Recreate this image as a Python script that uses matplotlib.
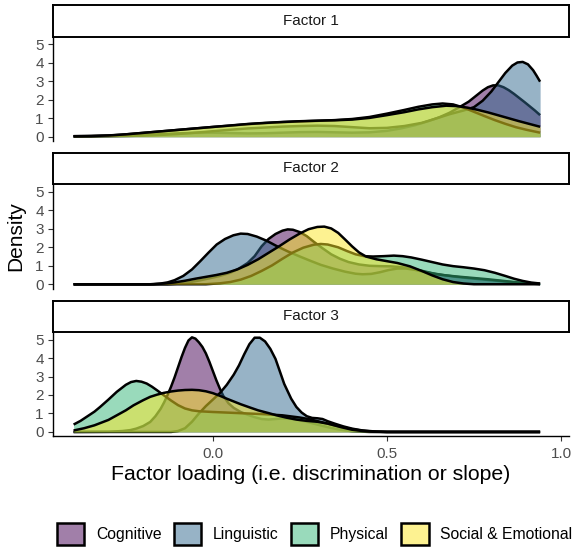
import matplotlib.pyplot as plt
from matplotlib.colors import to_rgb
from matplotlib.patches import Patch

plt.rcParams['font.family'] = ['Liberation Sans', 'DejaVu Sans']

domains = ["Cognitive", "Linguistic", "Physical", "Social & Emotional"]
colors = ["#440154", "#31688E", "#35B779", "#FDE725"]
factors = ["Factor 1", "Factor 2", "Factor 3"]

# density curves (x = loading, y = density)
# Factor 1
f1_cog_x = [-0.40, -0.35, -0.30, -0.25, -0.20, -0.15, -0.10, -0.05, 0.00, 0.05, 0.10, 0.15, 0.20, 0.25, 0.30, 0.35, 0.40, 0.45, 0.50, 0.54, 0.58, 0.62, 0.65, 0.68, 0.71, 0.735, 0.755, 0.775, 0.79, 0.805, 0.82, 0.835, 0.85, 0.865, 0.88, 0.895, 0.91, 0.925, 0.94]
f1_cog_y = [0.03, 0.04, 0.05, 0.07, 0.10, 0.14, 0.18, 0.21, 0.22, 0.20, 0.18, 0.19, 0.22, 0.25, 0.26, 0.24, 0.22, 0.24, 0.32, 0.45, 0.62, 0.85, 1.05, 1.30, 1.62, 1.90, 2.20, 2.50, 2.68, 2.78, 2.78, 2.68, 2.52, 2.32, 2.10, 1.88, 1.65, 1.42, 1.17]
f1_lin_x = [-0.40, -0.30, -0.20, -0.15, -0.10, -0.05, 0.00, 0.05, 0.10, 0.15, 0.20, 0.25, 0.30, 0.35, 0.40, 0.45, 0.50, 0.55, 0.60, 0.64, 0.68, 0.72, 0.75, 0.775, 0.80, 0.82, 0.84, 0.86, 0.875, 0.89, 0.905, 0.92, 0.93, 0.94]
f1_lin_y = [0.02, 0.03, 0.06, 0.10, 0.15, 0.22, 0.30, 0.38, 0.45, 0.50, 0.55, 0.58, 0.60, 0.58, 0.52, 0.46, 0.48, 0.58, 0.75, 0.98, 1.22, 1.42, 1.60, 1.95, 2.45, 2.95, 3.45, 3.85, 4.02, 4.05, 3.92, 3.60, 3.30, 2.98]
f1_phy_x = [-0.40, -0.35, -0.30, -0.25, -0.20, -0.15, -0.10, -0.05, 0.00, 0.05, 0.10, 0.15, 0.20, 0.25, 0.30, 0.35, 0.40, 0.45, 0.50, 0.55, 0.59, 0.63, 0.66, 0.69, 0.72, 0.75, 0.78, 0.81, 0.84, 0.87, 0.90, 0.94]
f1_phy_y = [0.02, 0.03, 0.06, 0.13, 0.21, 0.29, 0.37, 0.45, 0.53, 0.60, 0.68, 0.74, 0.79, 0.83, 0.86, 0.90, 0.96, 1.07, 1.25, 1.45, 1.62, 1.75, 1.80, 1.75, 1.58, 1.35, 1.12, 0.90, 0.70, 0.52, 0.38, 0.22]
f1_soc_x = [-0.40, -0.35, -0.30, -0.25, -0.20, -0.15, -0.10, -0.05, 0.00, 0.05, 0.10, 0.15, 0.20, 0.25, 0.30, 0.35, 0.40, 0.45, 0.50, 0.55, 0.59, 0.63, 0.67, 0.70, 0.73, 0.76, 0.79, 0.82, 0.85, 0.88, 0.91, 0.94]
f1_soc_y = [0.03, 0.04, 0.07, 0.13, 0.21, 0.29, 0.37, 0.45, 0.53, 0.61, 0.69, 0.75, 0.80, 0.84, 0.87, 0.89, 0.93, 1.02, 1.17, 1.33, 1.48, 1.60, 1.68, 1.66, 1.58, 1.46, 1.32, 1.16, 1.00, 0.84, 0.69, 0.54]

# Factor 2
f2_cog_x = [-0.40, -0.13, -0.10, -0.07, -0.04, -0.01, 0.02, 0.05, 0.075, 0.10, 0.12, 0.14, 0.16, 0.18, 0.20, 0.215, 0.23, 0.25, 0.27, 0.29, 0.315, 0.34, 0.365, 0.39, 0.42, 0.45, 0.48, 0.51, 0.54, 0.57, 0.60, 0.63, 0.66, 0.70, 0.74, 0.78, 0.82, 0.86, 0.90, 0.94]
f2_cog_y = [0.00, 0.00, 0.03, 0.10, 0.20, 0.32, 0.45, 0.62, 0.85, 1.15, 1.52, 2.05, 2.45, 2.72, 2.90, 2.97, 2.95, 2.82, 2.60, 2.30, 1.95, 1.62, 1.38, 1.20, 1.07, 1.00, 0.98, 0.97, 0.93, 0.85, 0.73, 0.60, 0.50, 0.40, 0.32, 0.25, 0.18, 0.11, 0.05, 0.01]
f2_lin_x = [-0.40, -0.18, -0.15, -0.13, -0.11, -0.085, -0.06, -0.036, -0.012, 0.011, 0.035, 0.059, 0.08, 0.10, 0.126, 0.155, 0.184, 0.215, 0.25, 0.28, 0.31, 0.345, 0.38, 0.41, 0.43, 0.455, 0.48, 0.505, 0.53, 0.555, 0.58, 0.61, 0.64, 0.67, 0.70, 0.73, 0.76, 0.79, 0.82, 0.85, 0.88, 0.91, 0.94]
f2_lin_y = [0.00, 0.00, 0.04, 0.10, 0.22, 0.45, 0.80, 1.25, 1.72, 2.15, 2.45, 2.65, 2.74, 2.72, 2.58, 2.35, 2.06, 1.78, 1.50, 1.27, 1.05, 0.85, 0.68, 0.57, 0.54, 0.56, 0.65, 0.77, 0.85, 0.85, 0.78, 0.66, 0.55, 0.48, 0.42, 0.37, 0.32, 0.27, 0.21, 0.15, 0.09, 0.05, 0.02]
f2_phy_x = [-0.40, -0.02, 0.02, 0.05, 0.08, 0.11, 0.14, 0.17, 0.20, 0.23, 0.26, 0.29, 0.31, 0.33, 0.36, 0.385, 0.41, 0.435, 0.46, 0.49, 0.52, 0.545, 0.57, 0.60, 0.63, 0.66, 0.69, 0.72, 0.75, 0.78, 0.81, 0.84, 0.865, 0.89, 0.915, 0.94]
f2_phy_y = [0.00, 0.00, 0.05, 0.12, 0.25, 0.45, 0.72, 1.02, 1.38, 1.72, 1.98, 2.14, 2.18, 2.15, 2.00, 1.80, 1.62, 1.52, 1.50, 1.52, 1.55, 1.52, 1.45, 1.33, 1.20, 1.07, 0.98, 0.92, 0.85, 0.76, 0.62, 0.45, 0.30, 0.18, 0.09, 0.04]
f2_soc_x = [-0.40, -0.17, -0.14, -0.11, -0.08, -0.05, -0.02, 0.01, 0.04, 0.07, 0.10, 0.13, 0.16, 0.19, 0.22, 0.25, 0.275, 0.30, 0.32, 0.34, 0.36, 0.38, 0.40, 0.42, 0.44, 0.47, 0.50, 0.53, 0.566, 0.60, 0.63, 0.66, 0.69, 0.72, 0.75, 0.94]
f2_soc_y = [0.00, 0.00, 0.04, 0.10, 0.19, 0.30, 0.40, 0.50, 0.62, 0.80, 1.05, 1.35, 1.70, 2.05, 2.42, 2.75, 2.98, 3.10, 3.12, 3.02, 2.78, 2.42, 2.05, 1.72, 1.50, 1.35, 1.25, 1.15, 0.97, 0.72, 0.48, 0.27, 0.12, 0.04, 0.00, 0.00]

# Factor 3
f3_cog_x = [-0.40, -0.30, -0.26, -0.237, -0.22, -0.20, -0.18, -0.165, -0.15, -0.14, -0.13, -0.12, -0.11, -0.10, -0.09, -0.08, -0.07, -0.06, -0.05, -0.04, -0.03, -0.02, -0.01, 0.00, 0.01, 0.02, 0.03, 0.045, 0.06, 0.08, 0.10, 0.12, 0.14, 0.16, 0.18, 0.20, 0.22, 0.24, 0.26, 0.28, 0.30, 0.33, 0.36, 0.40, 0.45, 0.94]
f3_cog_y = [0.00, 0.01, 0.05, 0.10, 0.18, 0.32, 0.54, 0.85, 1.25, 1.60, 2.00, 2.45, 2.95, 3.50, 4.05, 4.55, 4.95, 5.12, 5.05, 4.85, 4.60, 4.25, 3.80, 3.30, 2.80, 2.35, 1.95, 1.55, 1.30, 1.08, 0.93, 0.80, 0.70, 0.67, 0.70, 0.73, 0.72, 0.67, 0.59, 0.50, 0.40, 0.26, 0.14, 0.04, 0.00, 0.00]
f3_lin_x = [-0.40, -0.12, -0.10, -0.08, -0.06, -0.04, -0.02, 0.00, 0.02, 0.04, 0.06, 0.075, 0.09, 0.105, 0.12, 0.135, 0.15, 0.165, 0.18, 0.193, 0.205, 0.215, 0.225, 0.24, 0.255, 0.27, 0.285, 0.30, 0.315, 0.33, 0.35, 0.375, 0.40, 0.43, 0.47, 0.50, 0.94]
f3_lin_y = [0.00, 0.00, 0.05, 0.20, 0.55, 1.00, 1.40, 1.75, 2.10, 2.55, 3.10, 3.60, 4.20, 4.75, 5.10, 5.10, 4.90, 4.50, 3.95, 3.25, 2.60, 2.20, 1.80, 1.35, 1.05, 0.85, 0.76, 0.74, 0.70, 0.58, 0.45, 0.30, 0.18, 0.08, 0.02, 0.00, 0.00]
f3_phy_x = [-0.40, -0.38, -0.36, -0.34, -0.324, -0.30, -0.276, -0.25, -0.235, -0.22, -0.205, -0.19, -0.175, -0.16, -0.142, -0.12, -0.10, -0.08, -0.06, -0.04, -0.02, 0.00, 0.05, 0.10, 0.15, 0.20, 0.25, 0.28, 0.31, 0.34, 0.37, 0.40, 0.43, 0.46, 0.50, 0.94]
f3_phy_y = [0.40, 0.60, 0.85, 1.10, 1.35, 1.75, 2.17, 2.55, 2.70, 2.76, 2.72, 2.62, 2.45, 2.25, 2.00, 1.70, 1.45, 1.27, 1.17, 1.12, 1.10, 1.08, 1.04, 1.00, 0.96, 0.90, 0.78, 0.68, 0.54, 0.40, 0.27, 0.15, 0.07, 0.02, 0.00, 0.00]
f3_soc_x = [-0.40, -0.37, -0.34, -0.30, -0.276, -0.25, -0.228, -0.20, -0.18, -0.16, -0.142, -0.12, -0.10, -0.08, -0.06, -0.04, -0.02, 0.00, 0.02, 0.04, 0.06, 0.08, 0.107, 0.13, 0.16, 0.183, 0.21, 0.24, 0.27, 0.30, 0.33, 0.366, 0.40, 0.43, 0.46, 0.50, 0.94]
f3_soc_y = [0.08, 0.20, 0.36, 0.65, 0.90, 1.17, 1.44, 1.72, 1.90, 2.02, 2.11, 2.19, 2.24, 2.27, 2.28, 2.26, 2.20, 2.10, 1.96, 1.80, 1.65, 1.50, 1.32, 1.17, 1.02, 0.90, 0.78, 0.67, 0.60, 0.55, 0.45, 0.27, 0.12, 0.05, 0.01, 0.00, 0.00]

curves = [
    [(f1_cog_x, f1_cog_y), (f1_lin_x, f1_lin_y), (f1_phy_x, f1_phy_y), (f1_soc_x, f1_soc_y)],
    [(f2_cog_x, f2_cog_y), (f2_lin_x, f2_lin_y), (f2_phy_x, f2_phy_y), (f2_soc_x, f2_soc_y)],
    [(f3_cog_x, f3_cog_y), (f3_lin_x, f3_lin_y), (f3_phy_x, f3_phy_y), (f3_soc_x, f3_soc_y)],
]

W, H = 575, 550
fig = plt.figure(figsize=(W / 100, H / 100), dpi=100)


def box(x0, y0, x1, y1):
    # pixel box (top-left origin) -> figure fraction rect
    return [x0 / W, 1 - y1 / H, (x1 - x0) / W, (y1 - y0) / H]


panel_px = [(36.6, 141.0), (184.1, 288.5), (331.8, 436.2)]
strip_px = [(5.0, 36.6), (152.7, 184.1), (300.5, 331.8)]
left, right = 52.7, 569.0

for k in range(3):
    ax = fig.add_axes(box(left, panel_px[k][0], right, panel_px[k][1]))
    for i, (xs, ys) in enumerate(curves[k]):
        ax.fill_between(xs, 0, ys, color=colors[i], alpha=0.5, lw=0, zorder=2 * i + 1)
        ax.plot(xs, ys, color='black', lw=1.8, solid_capstyle='butt',
                solid_joinstyle='round', zorder=2 * i + 2)
    ax.set_xlim(-0.46, 1.023)
    ax.set_ylim(-0.23, 5.42)
    ax.set_yticks([0, 1, 2, 3, 4, 5])
    ax.set_xticks([0.0, 0.5, 1.0])
    ax.spines['top'].set_visible(False)
    ax.spines['right'].set_visible(False)
    ax.spines['left'].set_linewidth(1.0)
    ax.spines['bottom'].set_linewidth(1.0)
    ax.tick_params(length=3.4, width=0.8, color='#333333', labelcolor='#4D4D4D',
                   labelsize=11)
    ax.tick_params(axis='y', pad=3)
    ax.tick_params(axis='x', pad=4.5)
    if k < 2:
        ax.spines['bottom'].set_visible(False)
        ax.tick_params(axis='x', bottom=False, labelbottom=False)
    else:
        ax.set_xticklabels(["0.0", "0.5", "1.0"])
        ax.set_xlabel("Factor loading (i.e. discrimination or slope)", fontsize=15.3,
                      color='black', labelpad=3)

    sax = fig.add_axes(box(left, strip_px[k][0], right, strip_px[k][1]))
    sax.set_xticks([])
    sax.set_yticks([])
    for s in sax.spines.values():
        s.set_linewidth(1.4)
        s.set_color('black')
    sax.text(0.5, 0.5, factors[k], ha='center', va='center', fontsize=11,
             color='#1A1A1A', transform=sax.transAxes)

fig.text(16 / W, 1 - 236 / H, "Density", rotation=90, ha='center', va='center', fontsize=15)

handles = [Patch(facecolor=(*to_rgb(c), 0.5), edgecolor='black', linewidth=1.8) for c in colors]
fig.legend(handles, domains, loc='center', bbox_to_anchor=(314.5 / W, 1 - 534 / H),
           ncol=4, frameon=False, fontsize=11.3, handlelength=1.75, handleheight=1.75,
           handletextpad=0.72, columnspacing=0.8, borderaxespad=0)

fig.savefig("out.png", dpi=100)
